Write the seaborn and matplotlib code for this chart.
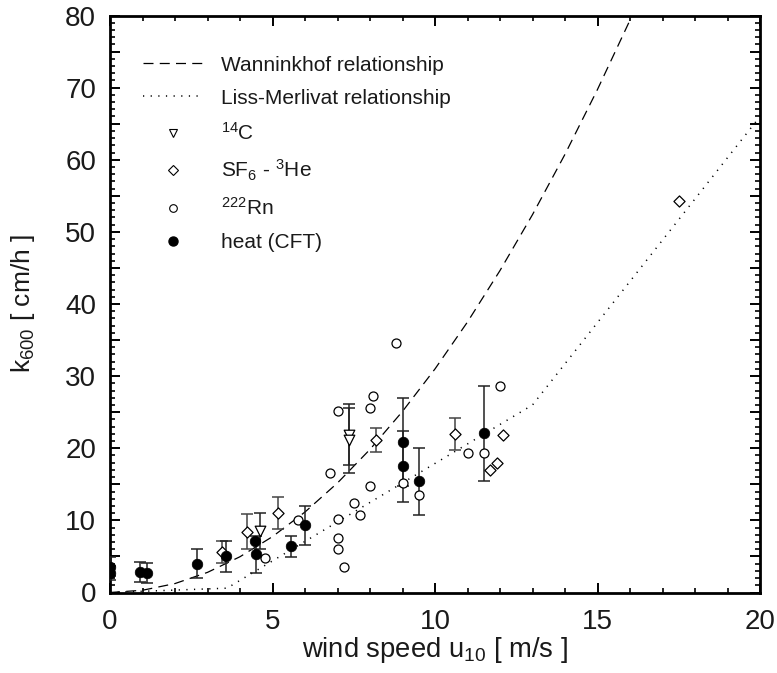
import numpy as np
import pandas as pd
import matplotlib
matplotlib.use("Agg")
import matplotlib.pyplot as plt
from matplotlib.lines import Line2D
from matplotlib.ticker import MultipleLocator, FuncFormatter
import seaborn as sns

# ---------------- data ----------------
# Wanninkhof relationship (dashed)
wan_u = [0, 1, 2, 3, 4, 5, 6, 7, 8, 9, 10, 11, 12, 13, 14, 15, 16, 16.06]
wan_k = [0, 0.31, 1.24, 2.79, 4.96, 7.75, 11.16, 15.19, 19.84, 25.11, 31.0,
         37.51, 44.64, 52.39, 60.76, 69.75, 79.36, 80.0]
# Liss-Merlivat relationship (dotted)
lm_u = [0, 3.6, 13, 20]
lm_k = [0, 0.6, 26.0, 66.0]

# 14C (open down triangles)
c14_u = [4.6, 7.35, 7.35]
c14_k = [8.5, 21.9, 21.1]
c14_e = [2.5, 4.2, 4.5]

# SF6 - 3He (open diamonds)
sf6_u = [3.45, 4.22, 5.17, 8.18, 10.6, 11.7, 11.9, 12.1, 17.5]
sf6_k = [5.6, 8.45, 11.0, 21.1, 22.0, 17.0, 18.0, 21.8, 54.3]
sf6_e = [1.5, 2.4, 2.2, 1.65, 2.2, 0, 0, 0, 0]

# 222Rn (open circles)
rn_u = [4.76, 5.78, 6.78, 7.0, 7.0, 7.0, 7.0, 7.2, 7.5, 7.7, 8.0,
        8.0, 8.1, 8.8, 9.0, 9.5, 11.0, 11.5, 12.0]
rn_k = [4.8, 10.1, 16.5, 25.1, 10.2, 7.5, 6.1, 3.6, 12.4, 10.8, 14.8,
        25.6, 27.2, 34.6, 15.2, 13.5, 19.3, 19.3, 28.7]

# heat (CFT) (filled circles)
cft_u = [0.0, 0.0, 0.93, 1.15, 2.68, 3.57, 4.47, 4.49, 5.58, 6.0, 9.0,
         9.0, 9.5, 11.5]
cft_k = [3.6, 2.7, 2.8, 2.7, 4.0, 5.0, 7.1, 5.3, 6.4, 9.3, 20.9, 17.5,
         15.4, 22.1]
cft_e = [1.3, 1.0, 1.4, 1.4, 2.0, 2.2, 0, 2.6, 1.5, 2.7, 6.1, 4.9, 4.6, 6.6]

x_ticks = [0, 5, 10, 15, 20]
y_ticks = [0, 10, 20, 30, 40, 50, 60, 70, 80]

# ---------------- style ----------------
sns.set_style("ticks")
plt.rcParams["font.family"] = ["Liberation Sans", "DejaVu Sans"]
plt.rcParams["mathtext.default"] = "regular"
plt.rcParams["mathtext.fontset"] = "custom"
plt.rcParams["mathtext.rm"] = "Liberation Sans"

TXT = "#1a1a1a"
fig = plt.figure(figsize=(7.77, 6.73), dpi=100)
ax = fig.add_axes([110 / 777, 1 - 592.5 / 673, 650 / 777, 577 / 673])

# curves
wan_df = pd.DataFrame({"u": wan_u, "k": wan_k})
lm_df = pd.DataFrame({"u": lm_u, "k": lm_k})
sns.lineplot(data=wan_df, x="u", y="k", ax=ax, color="black", lw=0.9,
             estimator=None, sort=False, zorder=2)
ax.lines[-1].set_dashes((8, 5))
sns.lineplot(data=lm_df, x="u", y="k", ax=ax, color="black", lw=1.1,
             estimator=None, sort=False, zorder=2)
ax.lines[-1].set_dashes((0.8, 4.2))

# error bars
def ebar(us, ks, es, color):
    for u, k, e in zip(us, ks, es):
        if e > 0:
            ax.errorbar([u], [k], yerr=[e], fmt="none", ecolor=color,
                        elinewidth=1.1, capsize=4.0, capthick=1.1, zorder=3)

ebar(c14_u, c14_k, c14_e, "#222222")
ebar(sf6_u, sf6_k, sf6_e, "#444444")
ebar(cft_u, cft_k, cft_e, "#222222")

# markers
sns.scatterplot(x=rn_u, y=rn_k, ax=ax, marker="o", s=42, facecolor="white",
                edgecolor="black", linewidth=0.9, zorder=4)
sns.scatterplot(x=sf6_u, y=sf6_k, ax=ax, marker="D", s=32, facecolor="white",
                edgecolor="black", linewidth=0.9, zorder=4)
sns.scatterplot(x=c14_u, y=c14_k, ax=ax, marker="v", s=58, facecolor="white",
                edgecolor="black", linewidth=0.9, zorder=4)
sns.scatterplot(x=cft_u, y=cft_k, ax=ax, marker="o", s=58, color="black",
                edgecolor="black", linewidth=0.5, zorder=5)

# axes
ax.set_xlim(0, 20)
ax.set_ylim(0, 80)
ax.xaxis.set_major_locator(MultipleLocator(5))
ax.xaxis.set_minor_locator(MultipleLocator(1))
ax.yaxis.set_major_locator(MultipleLocator(5))
ax.yaxis.set_minor_locator(MultipleLocator(1))
ax.xaxis.set_major_formatter(FuncFormatter(
    lambda v, p: f"{int(round(v))}" if int(round(v)) in x_ticks else ""))
ax.yaxis.set_major_formatter(FuncFormatter(
    lambda v, p: f"{int(round(v))}" if int(round(v)) in y_ticks else ""))
ax.tick_params(which="both", direction="in", top=True, right=True,
               colors="black", labelcolor=TXT, labelsize=20)
ax.tick_params(which="major", length=7.5, width=1.4)
ax.tick_params(which="minor", length=3.5, width=1.2)
ax.tick_params(axis="x", which="major", pad=12)
ax.tick_params(axis="y", which="major", pad=10)
for sp in ax.spines.values():
    sp.set_visible(True)
    sp.set_linewidth(2.0)
    sp.set_color("black")

ax.set_xlabel("wind speed u$_{10}$ [ m/s ]", fontsize=19.7, color=TXT, labelpad=0)
ax.set_ylabel("k$_{600}$ [ cm/h ]", fontsize=19, color=TXT)
ax.yaxis.set_label_coords(-0.112, 0.5)

# legend
handles = [
    Line2D([], [], color="black", lw=0.9, dashes=(8, 5)),
    Line2D([], [], color="black", lw=1.1, dashes=(0.8, 4.2)),
    Line2D([], [], ls="none", marker="v", ms=6, mfc="white", mec="black", mew=0.8),
    Line2D([], [], ls="none", marker="D", ms=5, mfc="white", mec="black", mew=0.8),
    Line2D([], [], ls="none", marker="o", ms=5.5, mfc="white", mec="black", mew=0.8),
    Line2D([], [], ls="none", marker="o", ms=6.5, mfc="black", mec="black"),
]
labels = ["Wanninkhof relationship", "Liss-Merlivat relationship",
          "$^{14}$C", "SF$_6$ - $^3$He", "$^{222}$Rn", "heat (CFT)"]
leg = ax.legend(handles, labels, loc="upper left", bbox_to_anchor=(0.038, 0.945),
                frameon=False, fontsize=15, handlelength=2.9, handletextpad=0.85,
                labelspacing=0.68, borderaxespad=0)
for t in leg.get_texts():
    t.set_color(TXT)

fig.savefig("out.png", dpi=100)
